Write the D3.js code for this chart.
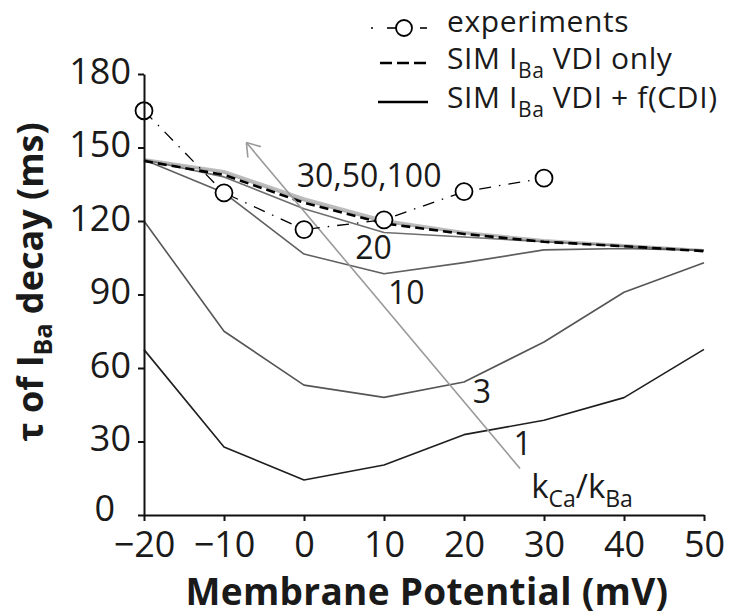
<!DOCTYPE html>
<html>
<head>
<meta charset="utf-8">
<script src="https://cdn.jsdelivr.net/npm/d3@7.9.0/dist/d3.min.js"></script>
<style>
  body { margin: 0; background: #fff; }
  svg { display: block; font-family: "Open Sans", "Noto Sans", sans-serif; }
</style>
</head>
<body>
<svg id="chart" width="734" height="616"></svg>
<script>
// membrane potentials (mV)
const potentials = [-20, -10, 0, 10, 20, 30, 40, 50];
const expPotentials = [-20, -10, 0, 10, 20, 30];

// tau of I_Ba decay (ms)
const experiments = [165, 131.5, 116.5, 120.5, 132, 137.5];
const vdiOnly = [144.5, 138.8, 127.5, 119, 114.7, 111.5, 109.7, 107.7];
const ratio100 = [145.2, 140.3, 129.2, 120.3, 115.4, 112.1, 110.1, 108];
const ratio50 = [145, 140, 128.8, 119.9, 115.2, 112, 110, 108];
const ratio30 = [145, 139.6, 128.3, 119.5, 115, 111.8, 109.9, 107.9];
const ratio20 = [145, 138, 125, 115.3, 113.5, 111.5, 109.7, 107.8];
const ratio10 = [145, 131.5, 106.5, 98.5, 103, 108.2, 108.8, 108];
const ratio3 = [120, 75, 53, 48, 54.3, 70.6, 90.9, 103];
const ratio1 = [67.5, 27.8, 14.3, 20.4, 32.8, 38.7, 47.9, 67.6];

const xTicks = [-20, -10, 0, 10, 20, 30, 40, 50];
const yTicks = [0, 30, 60, 90, 120, 150, 180];

const svg = d3.select('#chart');

const x = d3.scaleLinear().domain([-20, 50]).range([144, 704]);
const y = d3.scaleLinear().domain([0, 180]).range([515, 74]);

const line = d3.line()
  .x((d) => x(d[0]))
  .y((d) => y(d[1]));

// simulated curves, drawn back to front
const curves = [
  { values: ratio100, color: '#bdbdbd', width: 2.6 },
  { values: ratio50, color: '#bdbdbd', width: 2.2 },
  { values: ratio30, color: '#b0b0b0', width: 1.8 },
  { values: ratio20, color: '#6e6e6e', width: 1.6 },
  { values: ratio10, color: '#5f5f5f', width: 1.6 },
  { values: ratio3, color: '#555', width: 1.6 },
  { values: ratio1, color: '#1e1e1e', width: 1.6 },
];

curves.forEach((c) => {
  svg.append('path')
    .attr('d', line(potentials.map((p, i) => [p, c.values[i]])))
    .attr('fill', 'none')
    .attr('stroke', c.color)
    .attr('stroke-width', c.width)
    .attr('stroke-linejoin', 'round');
});

// VDI only (dashed)
svg.append('path')
  .attr('d', line(potentials.map((p, i) => [p, vdiOnly[i]])))
  .attr('fill', 'none')
  .attr('stroke', '#000')
  .attr('stroke-width', 2.6)
  .attr('stroke-dasharray', '9,5');

// arrow across the family of curves
const tail = [x(27), y(19)];
const tip = [x(-7.2), y(152)];
svg.append('line')
  .attr('x1', tail[0]).attr('y1', tail[1])
  .attr('x2', tip[0]).attr('y2', tip[1])
  .attr('stroke', '#9a9a9a')
  .attr('stroke-width', 1.6);
const ang = Math.atan2(tail[1] - tip[1], tail[0] - tip[0]);
[-0.6, 0.6].forEach((a) => {
  svg.append('line')
    .attr('x1', tip[0]).attr('y1', tip[1])
    .attr('x2', tip[0] + 15 * Math.cos(ang + a))
    .attr('y2', tip[1] + 15 * Math.sin(ang + a))
    .attr('stroke', '#9a9a9a')
    .attr('stroke-width', 1.6);
});

// experiments (dash-dot with open circles)
const expPts = expPotentials.map((p, i) => [p, experiments[i]]);
svg.append('path')
  .attr('d', line(expPts))
  .attr('fill', 'none')
  .attr('stroke', '#000')
  .attr('stroke-width', 1.3)
  .attr('stroke-dasharray', '12,8,1.5,8');
svg.selectAll('circle.exp')
  .data(expPts)
  .join('circle')
  .attr('class', 'exp')
  .attr('cx', (d) => x(d[0]))
  .attr('cy', (d) => y(d[1]))
  .attr('r', 8.5)
  .attr('fill', '#fff')
  .attr('stroke', '#000')
  .attr('stroke-width', 1.8);

// axes
const xAxis = svg.append('g')
  .attr('transform', `translate(0,${y(0)})`)
  .call(d3.axisBottom(x).tickValues(xTicks).tickSize(6).tickSizeOuter(0).tickPadding(10));
const yAxis = svg.append('g')
  .attr('transform', `translate(${x(-20)},0)`)
  .call(d3.axisLeft(y).tickValues(yTicks).tickSize(6).tickSizeOuter(0).tickPadding(7));

[xAxis, yAxis].forEach((g) => {
  g.select('.domain').attr('stroke', '#111').attr('stroke-width', 2);
  g.selectAll('.tick line').attr('stroke', '#111').attr('stroke-width', 2);
  g.selectAll('.tick text')
    .attr('font-family', '"Open Sans", sans-serif')
    .attr('font-size', 36)
    .attr('fill', '#1a1a1a');
});
yAxis.selectAll('.tick text').attr('dy', '0.25em');
// the zero label sits further left, clear of the −20 below it
yAxis.selectAll('.tick text').filter((d) => d === 0).attr('x', -29).attr('dy', '0.15em');

// curve labels
const labels = [
  { text: '30,50,100', at: [-0.9, 134] },
  { text: '20', at: [6.4, 104.6] },
  { text: '10', at: [10.5, 86.3] },
  { text: '3', at: [21.1, 45.6] },
  { text: '1', at: [26.2, 24.4] },
];
svg.selectAll('text.lbl')
  .data(labels)
  .join('text')
  .attr('class', 'lbl')
  .attr('x', (d) => x(d.at[0]))
  .attr('y', (d) => y(d.at[1]))
  .attr('font-size', 32)
  .attr('fill', '#1a1a1a')
  .text((d) => d.text);

const kLabel = svg.append('text')
  .attr('x', x(28.4))
  .attr('y', y(6.8))
  .attr('font-size', 33)
  .attr('fill', '#1a1a1a');
kLabel.append('tspan').text('k');
kLabel.append('tspan').attr('font-size', 23).attr('dy', 9).text('Ca');
kLabel.append('tspan').attr('dy', -9).text('/k');
kLabel.append('tspan').attr('font-size', 23).attr('dy', 9).text('Ba');

// axis titles
svg.append('text')
  .attr('x', 427)
  .attr('y', 605)
  .attr('text-anchor', 'middle')
  .attr('font-size', 37)
  .attr('font-weight', 'bold')
  .attr('letter-spacing', 0.3)
  .attr('fill', '#1a1a1a')
  .text('Membrane Potential (mV)');

const yTitle = svg.append('text')
  .attr('transform', 'translate(43,282) rotate(-90)')
  .attr('text-anchor', 'middle')
  .attr('font-size', 36)
  .attr('font-weight', 'bold')
  .attr('fill', '#1a1a1a');
yTitle.append('tspan').text('τ of I');
yTitle.append('tspan').attr('font-size', 25).attr('dy', 9).text('Ba');
yTitle.append('tspan').attr('dy', -9).text(' decay (ms)');

// legend
const legend = svg.append('g').attr('fill', '#1a1a1a');
const row1 = 28;
legend.append('circle').attr('cx', 372).attr('cy', row1).attr('r', 1).attr('fill', '#000');
legend.append('line').attr('x1', 387).attr('x2', 396).attr('y1', row1).attr('y2', row1)
  .attr('stroke', '#000').attr('stroke-width', 1.6);
legend.append('circle').attr('cx', 404).attr('cy', row1).attr('r', 8)
  .attr('fill', '#fff').attr('stroke', '#000').attr('stroke-width', 1.8);
legend.append('line').attr('x1', 420).attr('x2', 427).attr('y1', row1).attr('y2', row1)
  .attr('stroke', '#000').attr('stroke-width', 1.6);
legend.append('line').attr('x1', 380).attr('x2', 428).attr('y1', 63).attr('y2', 63)
  .attr('stroke', '#000').attr('stroke-width', 2.6).attr('stroke-dasharray', '12,5');
legend.append('line').attr('x1', 378).attr('x2', 428).attr('y1', 102).attr('y2', 102)
  .attr('stroke', '#000').attr('stroke-width', 2.6);

legend.append('text').attr('x', 447).attr('y', 32).attr('font-size', 30)
  .attr('letter-spacing', 0.6).text('experiments');
[[69, ' VDI only'], [108, ' VDI + f(CDI)']].forEach(([ty, rest]) => {
  const t = legend.append('text').attr('x', 447).attr('y', ty).attr('font-size', 30)
    .attr('letter-spacing', 0.6);
  t.append('tspan').text('SIM I');
  t.append('tspan').attr('font-size', 21).attr('dy', 9).text('Ba');
  t.append('tspan').attr('dy', -9).text(rest);
});
</script>
</body>
</html>
